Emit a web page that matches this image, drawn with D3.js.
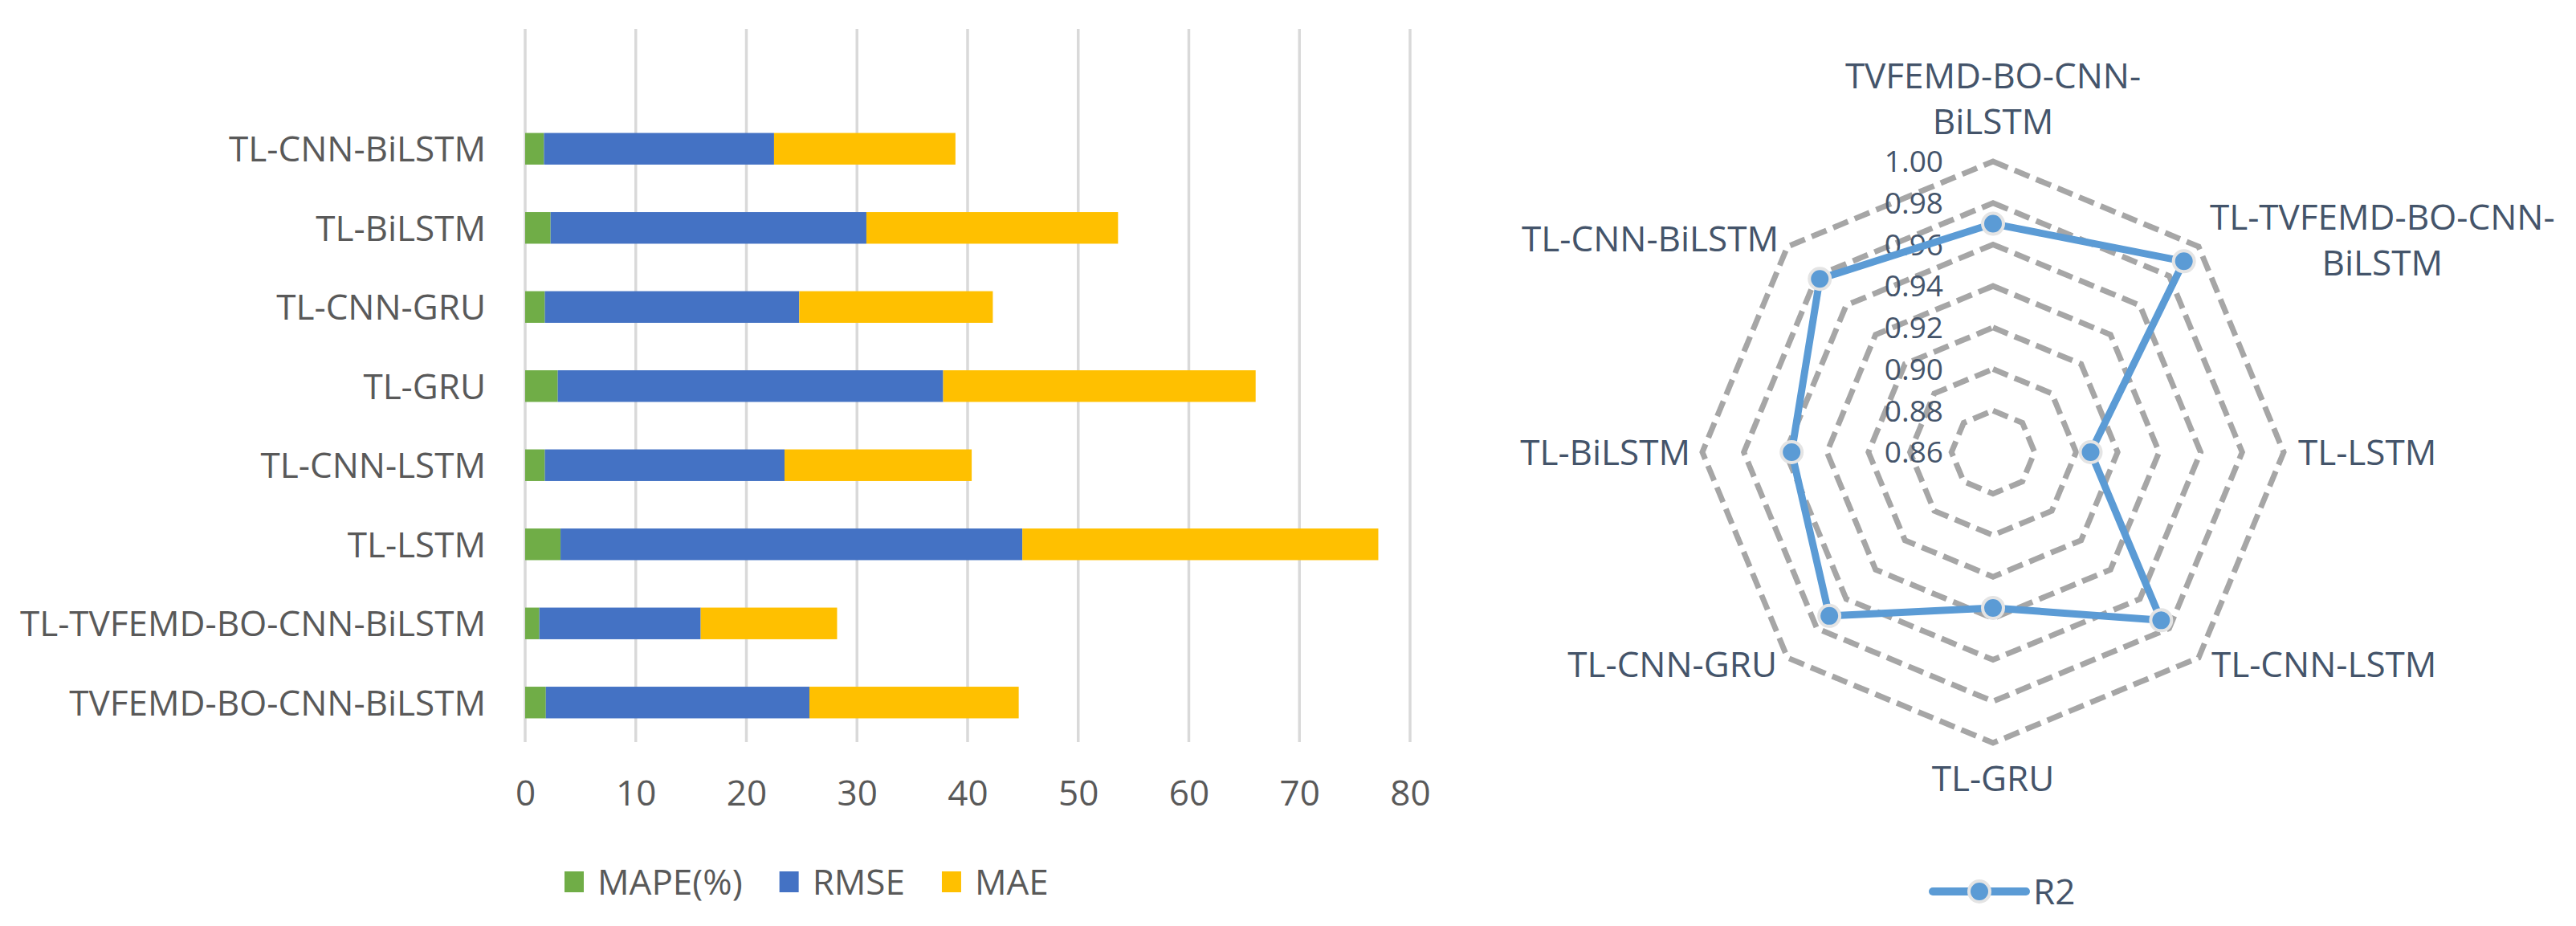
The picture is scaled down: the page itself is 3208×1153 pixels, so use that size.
<!DOCTYPE html>
<html>
<head>
<meta charset="utf-8">
<script src="https://cdn.jsdelivr.net/npm/d3@7"></script>
<style>
  html, body { margin: 0; padding: 0; background: #fff; }
  svg { display: block; }
</style>
</head>
<body>
<div id="chart"></div>
<script>
// model names, same order for both charts (bars bottom->top, radar clockwise from top)
const categories = ["TVFEMD-BO-CNN-BiLSTM", "TL-TVFEMD-BO-CNN-BiLSTM", "TL-LSTM", "TL-CNN-LSTM",
                    "TL-GRU", "TL-CNN-GRU", "TL-BiLSTM", "TL-CNN-BiLSTM"];
const mape = [1.87, 1.28, 3.2, 1.78, 2.95, 1.78, 2.3, 1.7];
const rmse = [23.83, 14.59, 41.75, 21.67, 34.84, 23.0, 28.55, 20.8];
const mae  = [18.92, 12.33, 32.18, 16.92, 28.25, 17.5, 22.75, 16.4];
const r2   = [0.970, 0.990, 0.907, 0.9745, 0.935, 0.9715, 0.957, 0.978];

const seriesNames = ["MAPE(%)", "RMSE", "MAE"];
const seriesColors = ["#70AD47", "#4472C4", "#FFC000"];
const xTicks = [0, 10, 20, 30, 40, 50, 60, 70, 80];
const rTicks = [0.86, 0.88, 0.90, 0.92, 0.94, 0.96, 0.98, 1.00];

const width = 3208, height = 1153;
const font = "'Open Sans', 'Noto Sans', sans-serif";
const fontSize = 44;
const tickFontSize = 37;

const svg = d3.select("#chart").append("svg")
    .attr("width", width)
    .attr("height", height)
    .style("font-family", font);

svg.append("rect").attr("width", width).attr("height", height).attr("fill", "white");

// ---------- stacked bar chart ----------
const bar = {left: 654, right: 1756, top: 36, bandTop: 136, bottom: 924};

const x = d3.scaleLinear().domain([0, 80]).range([bar.left, bar.right]);
const y = d3.scaleBand()
    .domain(categories.slice().reverse())
    .range([bar.bandTop, bar.bottom])
    .paddingInner(0.6)
    .paddingOuter(0.3);

svg.append("g").selectAll("line")
    .data(xTicks)
    .join("line")
      .attr("x1", d => x(d)).attr("x2", d => x(d))
      .attr("y1", bar.top).attr("y2", bar.bottom)
      .attr("stroke", "#D9D9D9")
      .attr("stroke-width", 3.5);

const stacked = categories.map((c, i) => {
  const vals = [mape[i], rmse[i], mae[i]];
  let acc = 0;
  return vals.map((v, k) => {
    const seg = {cat: c, k: k, x0: acc, x1: acc + v};
    acc += v;
    return seg;
  });
}).flat();

svg.append("g").selectAll("rect")
    .data(stacked)
    .join("rect")
      .attr("x", d => x(d.x0))
      .attr("width", d => x(d.x1) - x(d.x0))
      .attr("y", d => y(d.cat))
      .attr("height", y.bandwidth())
      .attr("fill", d => seriesColors[d.k]);

// category labels
svg.append("g").selectAll("text")
    .data(categories)
    .join("text")
      .attr("x", bar.left - 49)
      .attr("y", d => y(d) + y.bandwidth() / 2)
      .attr("dy", "0.36em")
      .attr("text-anchor", "end")
      .attr("fill", "#595959")
      .style("font-size", fontSize + "px")
      .text(d => d);

// x axis labels
const xAxis = g => g
    .attr("transform", `translate(0, 987)`)
    .call(d3.axisBottom(x).tickValues(xTicks).tickSize(0).tickPadding(0))
    .call(g => g.select(".domain").remove())
    .call(g => g.selectAll("text")
        .attr("y", 0)
        .attr("dy", "0.36em")
        .attr("fill", "#595959")
        .style("font-size", fontSize + "px")
        .style("font-family", font));
svg.append("g").call(xAxis);

// bar legend
let lx = 703;
const legY = 1098;
seriesNames.forEach((name, k) => {
  svg.append("rect")
      .attr("x", lx).attr("y", legY - 13)
      .attr("width", 24).attr("height", 26)
      .attr("fill", seriesColors[k]);
  const t = svg.append("text")
      .attr("x", lx + 41).attr("y", legY)
      .attr("dy", "0.36em")
      .attr("fill", "#595959")
      .style("font-size", fontSize + "px")
      .text(name);
  lx += 41 + t.node().getComputedTextLength() + 46;
});

// ---------- radar chart ----------
const cx = 2482, cy = 563;
const r = d3.scaleLinear().domain([0.86, 1.00]).range([0, 362]);
const n = categories.length;
const angle = i => i * 2 * Math.PI / n;
const pt = (i, v) => [cx + r(v) * Math.sin(angle(i)), cy - r(v) * Math.cos(angle(i))];
const closed = d3.line().curve(d3.curveLinearClosed);

const ringColor = "#A6A6A6";
svg.append("g").selectAll("path")
    .data(rTicks.slice(1))
    .join("path")
      .attr("d", v => closed(categories.map((c, i) => pt(i, v))))
      .attr("fill", "none")
      .attr("stroke", ringColor)
      .attr("stroke-width", 7)
      .attr("stroke-dasharray", "20,9");

// tick values
svg.append("g").selectAll("text")
    .data(rTicks)
    .join("text")
      .attr("x", cx - 62)
      .attr("y", v => cy - r(v))
      .attr("dy", "0.36em")
      .attr("text-anchor", "end")
      .attr("fill", "#44546A")
      .style("font-size", tickFontSize + "px")
      .text(v => v.toFixed(2));

const lineColor = "#5B9BD5";
const markerStroke = "#E4E4E4";

svg.append("path")
    .attr("d", closed(r2.map((v, i) => pt(i, v))))
    .attr("fill", "none")
    .attr("stroke", lineColor)
    .attr("stroke-width", 9)
    .attr("stroke-linejoin", "round");

svg.append("g").selectAll("circle")
    .data(r2)
    .join("circle")
      .attr("cx", (v, i) => pt(i, v)[0])
      .attr("cy", (v, i) => pt(i, v)[1])
      .attr("r", 13)
      .attr("fill", lineColor)
      .attr("stroke", markerStroke)
      .attr("stroke-width", 4);

// axis labels round the radar
const radarLabels = [
  {lines: ["TVFEMD-BO-CNN-", "BiLSTM"], anchor: "middle", dx: 0, dy: -469},
  {lines: ["TL-TVFEMD-BO-CNN-", "BiLSTM"], anchor: "block", dx: 270, dy: -293},
  {lines: ["TL-LSTM"], anchor: "start", dx: 380, dy: 0},
  {lines: ["TL-CNN-LSTM"], anchor: "start", dx: 272, dy: 264},
  {lines: ["TL-GRU"], anchor: "middle", dx: 0, dy: 406},
  {lines: ["TL-CNN-GRU"], anchor: "end", dx: -269, dy: 264},
  {lines: ["TL-BiLSTM"], anchor: "end", dx: -377, dy: 0},
  {lines: ["TL-CNN-BiLSTM"], anchor: "end", dx: -267, dy: -266}
];
const lineH = 57;
radarLabels.forEach(lb => {
  const g = svg.append("g");
  const texts = lb.lines.map((s, j) => g.append("text")
      .attr("x", cx + lb.dx)
      .attr("y", cy + lb.dy + j * lineH)
      .attr("dy", "0.36em")
      .attr("fill", "#44546A")
      .attr("text-anchor", lb.anchor === "block" ? "middle" : lb.anchor)
      .style("font-size", fontSize + "px")
      .text(s));
  if (lb.anchor === "block") {
    const w = d3.max(texts, t => t.node().getComputedTextLength());
    texts.forEach(t => t.attr("x", cx + lb.dx + w / 2));
  }
});

// radar legend
const rlY = 1110;
svg.append("line")
    .attr("x1", 2407).attr("x2", 2523)
    .attr("y1", rlY).attr("y2", rlY)
    .attr("stroke", lineColor)
    .attr("stroke-width", 10)
    .attr("stroke-linecap", "round");
svg.append("circle")
    .attr("cx", 2465).attr("cy", rlY).attr("r", 13)
    .attr("fill", lineColor)
    .attr("stroke", markerStroke)
    .attr("stroke-width", 4);
svg.append("text")
    .attr("x", 2532).attr("y", rlY)
    .attr("dy", "0.36em")
    .attr("fill", "#44546A")
    .style("font-size", fontSize + "px")
    .text("R2");
</script>
</body>
</html>
